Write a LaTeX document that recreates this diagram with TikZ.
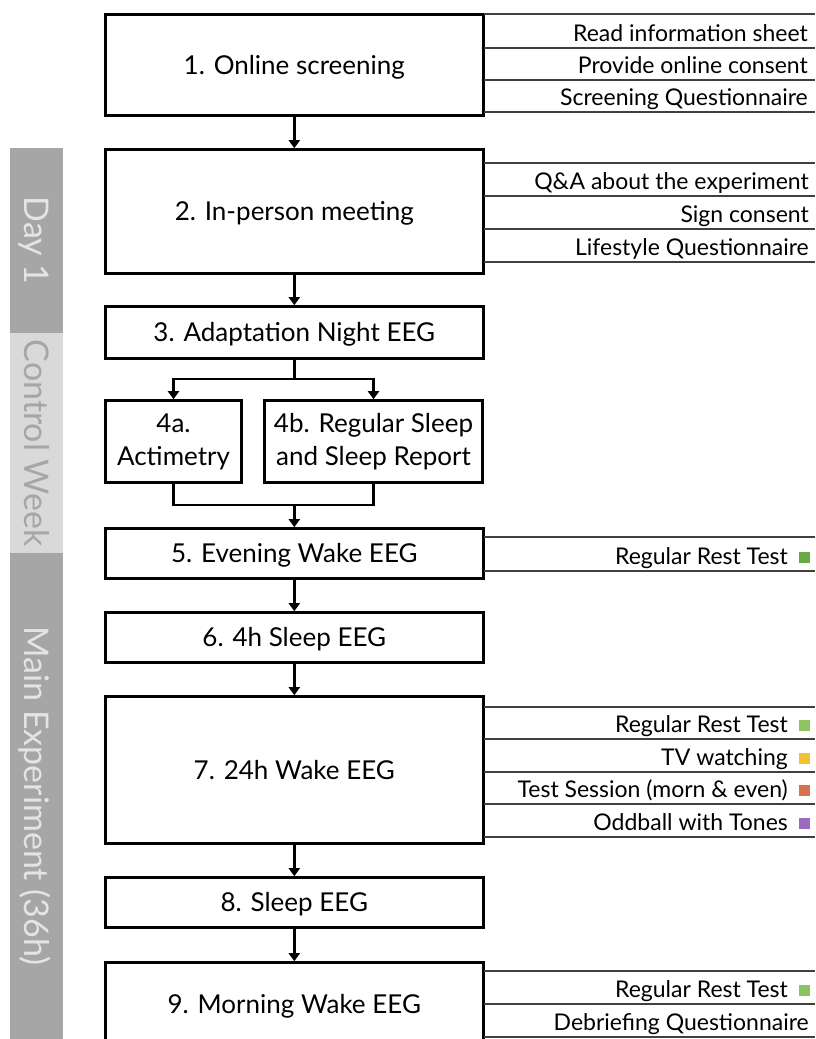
\documentclass[tikz,border=0pt]{standalone}
\usepackage{fontspec}
\setmainfont{Lato}
\usetikzlibrary{arrows.meta}
\definecolor{bandDark}{HTML}{A6A6A6}
\definecolor{bandLight}{HTML}{D9D9D9}
\definecolor{bandTxtOnDark}{HTML}{E4E4E4}
\definecolor{bandTxtOnLight}{HTML}{A6A6A6}
\definecolor{sepGray}{HTML}{404040}
\definecolor{mkGreenA}{HTML}{6AAA45}
\definecolor{mkGreenB}{HTML}{8DC461}
\definecolor{mkYellow}{HTML}{F3C232}
\definecolor{mkOrange}{HTML}{D9704F}
\definecolor{mkPurple}{HTML}{9C6BBB}
\begin{document}
\begin{tikzpicture}[x=1pt,y=-1pt,
  stepbox/.style={draw, line width=2.6pt, minimum width=378pt, inner sep=0pt,
    font=\fontsize{26}{33}\selectfont, text height=18.6pt, text depth=0pt},
  smallbox/.style={draw, line width=2.6pt, inner sep=0pt, minimum height=82pt,
    align=center, font=\fontsize{26}{33}\selectfont},
  flow/.style={line width=2.6pt, -{Triangle[width=11pt,length=8pt]}},
  conn/.style={line width=2.6pt},
  sep/.style={draw=sepGray, line width=1.1pt},
  item/.style={anchor=base east, inner sep=0pt, font=\fontsize{23}{28}\selectfont},
  marker/.style={anchor=south east, inner sep=0pt, minimum size=11pt},
  band/.style={rotate=-90, inner sep=0pt, minimum height=53pt,
    font=\fontsize{34}{40}\selectfont, text height=24.4pt, text depth=0pt}
]
\clip (0,0) rectangle (815,1039);
\fill[white] (0,0) rectangle (815,1039);

% side bands
\node[band, fill=bandDark, text=bandTxtOnDark, minimum width=185pt] (dayone) at (36.5,240.5) {Day 1};
\node[band, fill=bandLight, text=bandTxtOnLight, minimum width=220pt] (ctrl) at (36.5,443) {Control Week};
\node[band, fill=bandDark, text=bandTxtOnDark, minimum width=486pt] (mainexp) at (36.5,796) {Main Experiment (36h)};

% step boxes
\node[stepbox, minimum height=101pt] (b1) at (294.3,65) {1. Online screening};
\node[stepbox, minimum height=124pt] (b2) at (294.3,211.5) {2. In-person meeting};
\node[stepbox, minimum height=52pt] (b3) at (294.3,332.5) {3. Adaptation Night EEG};
\node[smallbox, minimum width=136pt] (b4a) at (173.5,441.5) {\raisebox{-2.5pt}{4a.}\\\raisebox{-2.5pt}{Actimetry}};
\node[smallbox, minimum width=218pt] (b4b) at (373.5,441.5) {\raisebox{-2.5pt}{4b. Regular Sleep}\\\raisebox{-2.5pt}{and Sleep Report}};
\node[stepbox, minimum height=50pt] (b5) at (294.3,553.5) {5. Evening Wake EEG};
\node[stepbox, minimum height=50pt] (b6) at (294.3,637.5) {6. 4h Sleep EEG};
\node[stepbox, minimum height=147pt] (b7) at (294.3,770) {7. 24h Wake EEG};
\node[stepbox, minimum height=50pt] (b8) at (294.3,902.5) {8. Sleep EEG};
\node[stepbox, minimum height=83pt] (b9) at (294.3,1004) {9. Morning Wake EEG};

% connectors
\draw[flow] (b1) -- (b2);
\draw[flow] (b2) -- (b3);
\coordinate (split) at (294.3,379);
\coordinate (mrg) at (294.3,505);
\draw[conn] (b3.south) -- (split);
\draw[flow] (split) -| (b4a.north);
\draw[flow] (split) -| (b4b.north);
\draw[conn] (b4a.south) |- (mrg) -| (b4b.south);
\draw[flow] (mrg) -- (b5.north);
\draw[flow] (b5) -- (b6);
\draw[flow] (b6) -- (b7);
\draw[flow] (b7) -- (b8);
\draw[flow] (b8) -- (b9);

% side items: box 1
\foreach \yy in {14,48,80,112} \draw[sep] (484,\yy) -- (815,\yy);
\node[item] (i1a) at (808,41) {Read information sheet};
\node[item] (i1b) at (808,73) {Provide online consent};
\node[item] (i1c) at (808,105) {Screening Questionnaire};
% box 2
\foreach \yy in {163,196,229,262} \draw[sep] (484,\yy) -- (815,\yy);
\node[item] (i2a) at (809,189) {Q\&A about the experiment};
\node[item] (i2b) at (809,222) {Sign consent};
\node[item] (i2c) at (809,255) {Lifestyle Questionnaire};
% box 5
\foreach \yy in {537,571} \draw[sep] (484,\yy) -- (815,\yy);
\node[item] (i5a) at (788,564) {Regular Rest Test};
\node[marker, fill=mkGreenA] (m5a) at (810,563) {};
% box 7
\foreach \yy in {707,739,772,804,837} \draw[sep] (484,\yy) -- (815,\yy);
\node[item] (i7a) at (788,732) {Regular Rest Test};
\node[marker, fill=mkGreenB] (m7a) at (810,731) {};
\node[item] (i7b) at (788,765) {TV watching};
\node[marker, fill=mkYellow] (m7b) at (810,764) {};
\node[item] (i7c) at (788,797) {Test Session (morn \& even)};
\node[marker, fill=mkOrange] (m7c) at (810,796) {};
\node[item] (i7d) at (788,830) {Oddball with Tones};
\node[marker, fill=mkPurple] (m7d) at (810,829) {};
% box 9
\foreach \yy in {971,1004,1037} \draw[sep] (484,\yy) -- (815,\yy);
\node[item] (i9a) at (788,997) {Regular Rest Test};
\node[marker, fill=mkGreenB] (m9a) at (810,996) {};
\node[item] (i9b) at (809,1030) {Debriefing Questionnaire};
\end{tikzpicture}
\end{document}
